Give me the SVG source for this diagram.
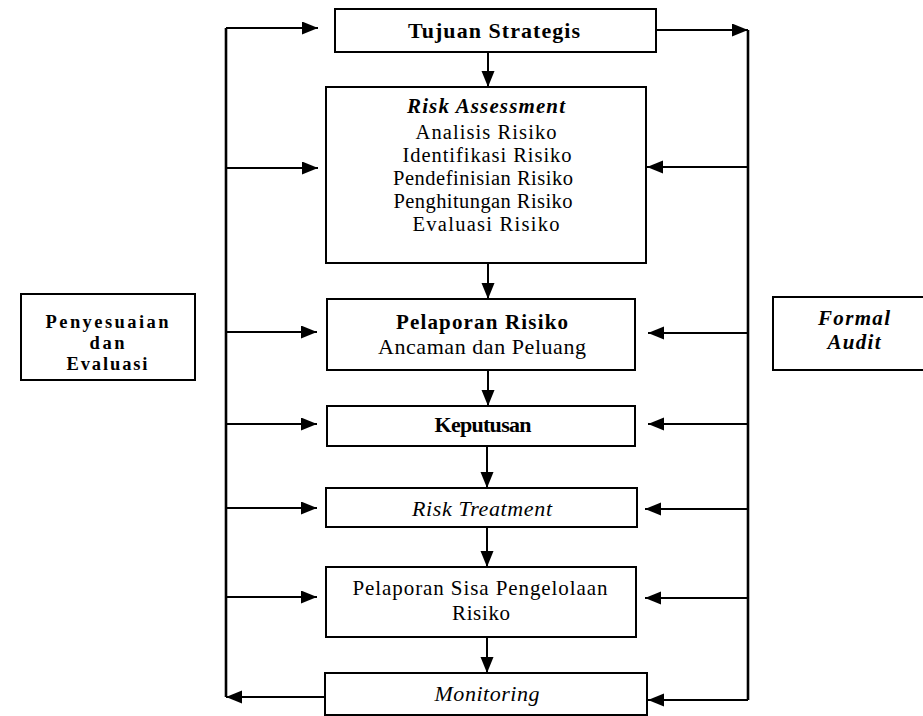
<svg xmlns="http://www.w3.org/2000/svg" width="923" height="716" viewBox="0 0 923 716">
  <style>
    .box { fill: #ffffff; stroke: #000000; stroke-width: 2; }
    .line { fill: none; stroke: #000000; stroke-width: 2; }
    .rail { fill: none; stroke: #000000; stroke-width: 2.6; }
    .t { font-family: "Liberation Serif", "Times New Roman", serif; font-size: 21px; fill: #000000; text-anchor: middle; }
    .b { font-weight: bold; }
    .i { font-style: italic; }
    .s18 { font-size: 18.5px; }
    .s20 { font-size: 20.5px; }
    .s22 { font-size: 22px; }
  </style>
  <defs>
    <marker id="arrow" markerUnits="userSpaceOnUse" markerWidth="17" markerHeight="14" refX="16" refY="6.5" orient="auto">
      <path d="M0,0 L16,6.5 L0,13 z" fill="#000000"/>
    </marker>
  </defs>

  <rect width="923" height="716" fill="#ffffff"/>

  <!-- connectors -->
  <g id="connectors">
    <!-- left feedback rail -->
    <path class="rail" d="M226,28 V697"/>
    <path class="line" d="M226,28 H318" marker-end="url(#arrow)"/>
    <path class="line" d="M226,168 H318" marker-end="url(#arrow)"/>
    <path class="line" d="M226,332 H317" marker-end="url(#arrow)"/>
    <path class="line" d="M226,424 H317" marker-end="url(#arrow)"/>
    <path class="line" d="M226,508 H317" marker-end="url(#arrow)"/>
    <path class="line" d="M226,597 H317" marker-end="url(#arrow)"/>
    <path class="line" d="M325,697 H226" marker-end="url(#arrow)"/>

    <!-- right audit rail -->
    <path class="rail" d="M748,30 V700"/>
    <path class="line" d="M656,30 H748" marker-end="url(#arrow)"/>
    <path class="line" d="M748,167 H647" marker-end="url(#arrow)"/>
    <path class="line" d="M748,333 H648" marker-end="url(#arrow)"/>
    <path class="line" d="M748,424 H648" marker-end="url(#arrow)"/>
    <path class="line" d="M748,509 H645" marker-end="url(#arrow)"/>
    <path class="line" d="M748,598 H645" marker-end="url(#arrow)"/>
    <path class="line" d="M748,700 H648" marker-end="url(#arrow)"/>

    <!-- main flow -->
    <path class="line" d="M488,52 V87" marker-end="url(#arrow)"/>
    <path class="line" d="M488,263 V299" marker-end="url(#arrow)"/>
    <path class="line" d="M488,370 V406" marker-end="url(#arrow)"/>
    <path class="line" d="M487,446 V488" marker-end="url(#arrow)"/>
    <path class="line" d="M487,527 V567" marker-end="url(#arrow)"/>
    <path class="line" d="M487,637 V673" marker-end="url(#arrow)"/>
  </g>

  <g id="tujuan-strategis">
    <rect class="box" x="335" y="9" width="321" height="43"/>
    <text class="t b s22" x="494" y="38" textLength="172" lengthAdjust="spacing">Tujuan Strategis</text>
  </g>

  <g id="risk-assessment">
    <rect class="box" x="326" y="87" width="320" height="176"/>
    <text class="t b i" x="486" y="113" textLength="158" lengthAdjust="spacing">Risk Assessment</text>
    <text class="t s20" x="486" y="139" textLength="141" lengthAdjust="spacing">Analisis Risiko</text>
    <text class="t s20" x="487" y="162" textLength="169" lengthAdjust="spacing">Identifikasi Risiko</text>
    <text class="t s20" x="483" y="185" textLength="180" lengthAdjust="spacing">Pendefinisian Risiko</text>
    <text class="t s20" x="483" y="208" textLength="179" lengthAdjust="spacing">Penghitungan Risiko</text>
    <text class="t s20" x="486" y="231" textLength="147" lengthAdjust="spacing">Evaluasi Risiko</text>
  </g>

  <g id="pelaporan-risiko">
    <rect class="box" x="327" y="299" width="308" height="71"/>
    <text class="t b" x="482" y="329" textLength="172" lengthAdjust="spacing">Pelaporan Risiko</text>
    <text class="t s22" x="482" y="354" textLength="208" lengthAdjust="spacing">Ancaman dan Peluang</text>
  </g>

  <g id="keputusan">
    <rect class="box" x="327" y="406" width="308" height="40"/>
    <text class="t b s22" x="483" y="432" textLength="97" lengthAdjust="spacing">Keputusan</text>
  </g>

  <g id="risk-treatment">
    <rect class="box" x="326" y="488" width="311" height="39"/>
    <text class="t i s22" x="482" y="516" textLength="140" lengthAdjust="spacing">Risk Treatment</text>
  </g>

  <g id="pelaporan-sisa">
    <rect class="box" x="326" y="567" width="310" height="70"/>
    <text class="t" x="480" y="595" textLength="255" lengthAdjust="spacing">Pelaporan Sisa Pengelolaan</text>
    <text class="t" x="481" y="620" textLength="58" lengthAdjust="spacing">Risiko</text>
  </g>

  <g id="monitoring">
    <rect class="box" x="325" y="673" width="322" height="42"/>
    <text class="t i s22" x="487" y="701" textLength="105" lengthAdjust="spacing">Monitoring</text>
  </g>

  <g id="penyesuaian-evaluasi">
    <rect class="box" x="21" y="294" width="174" height="86"/>
    <text class="t b s18" x="107" y="328" textLength="123" lengthAdjust="spacing">Penyesuaian</text>
    <text class="t b s18" x="107" y="349" textLength="35" lengthAdjust="spacing">dan</text>
    <text class="t b s18" x="107" y="370" textLength="81" lengthAdjust="spacing">Evaluasi</text>
  </g>

  <g id="formal-audit">
    <rect class="box" x="773" y="297" width="162" height="73"/>
    <text class="t b i" x="854" y="325" textLength="72" lengthAdjust="spacing">Formal</text>
    <text class="t b i" x="854" y="349" textLength="53" lengthAdjust="spacing">Audit</text>
  </g>
</svg>
